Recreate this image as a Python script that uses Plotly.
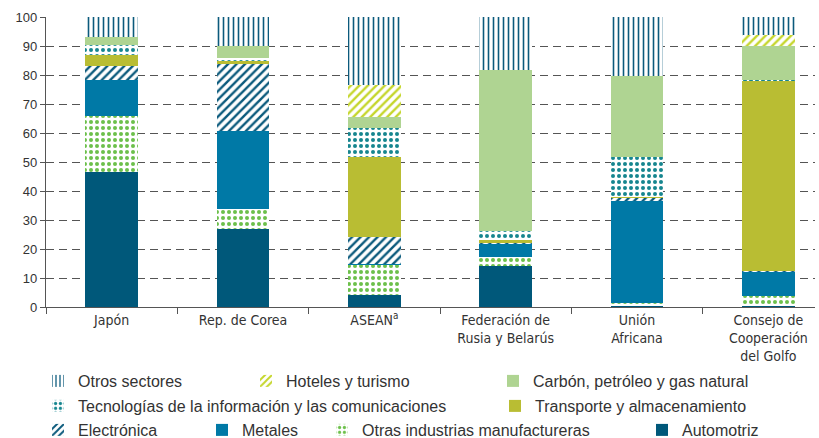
import plotly.graph_objects as go

categorias = [
  "Japón",
  "Rep. de Corea",
  "ASEAN<sup>a</sup>",
  "Federación de<br>Rusia y Belarús",
  "Unión<br>Africana",
  "Consejo de<br>Cooperación<br>del Golfo",
]

automotriz = [46.6, 27.0, 4.2, 14.3, 0.3, 0.5]
otras_manuf = [19.1, 6.9, 10.3, 2.9, 1.2, 3.4]
metales = [12.7, 26.9, 0.5, 4.6, 34.9, 8.4]
electronica = [4.8, 23.3, 9.3, 0.3, 1.5, 0.2]
transporte = [3.8, 0.6, 27.4, 1.0, 0.2, 65.5]
tic = [3.3, 1.2, 10.0, 3.1, 13.5, 0.3]
carbon = [2.7, 4.2, 3.8, 55.6, 28.2, 11.8]
hoteles = [0.0, 0.0, 11.2, 0.0, 0.0, 3.8]
otros = [7.0, 9.9, 23.3, 18.2, 20.2, 6.1]

y_ticks = [0, 10, 20, 30, 40, 50, 60, 70, 80, 90, 100]

# (nombre, valores, color, patron, leyenda, x texto px, fila)
series = [
  ("Automotriz", automotriz, '#00587a', '', 'legend9', 682, 3),
  ("Otras industrias manufactureras", otras_manuf, '#6cc04a', '.', 'legend8', 362, 3),
  ("Metales", metales, '#0079a6', '', 'legend7', 242, 3),
  ("Electrónica", electronica, '#0b5a7c', '/', 'legend6', 78, 3),
  ("Transporte y almacenamiento", transporte, '#b9bd33', '', 'legend5', 535, 2),
  ("Tecnologías de la información y las comunicaciones", tic, '#16858f', '.', 'legend4', 78, 2),
  ("Carbón, petróleo y gas natural", carbon, '#afd492', '', 'legend3', 533, 1),
  ("Hoteles y turismo", hoteles, '#c5d62b', '/', 'legend2', 286, 1),
  ("Otros sectores", otros, '#0b5a7c', '|', 'legend', 78, 1),
]

L, R, T, B = 46, 4, 17, 131
W, H = 819, 438
plot_w = W - L - R
plot_h = H - T - B
row_px = {1: 381, 2: 406, 3: 430}

fig = go.Figure()
legends = {}

for nombre, valores, color, patron, leg, tx, fila in series:
  if patron:
    marker = dict(
      color=color,
      line=dict(width=0),
      pattern=dict(
        shape=patron,
        fgcolor=color,
        bgcolor='white',
        size=6 if patron != '|' else 5,
        solidity={'.': 0.35, '/': 0.4, '|': 0.32}[patron],
        fillmode='replace',
      ),
    )
  else:
    marker = dict(color=color, line=dict(width=0))

  fig.add_trace(go.Bar(
    x=categorias,
    y=valores,
    name=nombre,
    marker=marker,
    width=0.4,
    legend=leg,
    showlegend=True,
  ))

  legends[leg] = dict(
    x=(tx - 40 - L) / plot_w,
    xanchor='left',
    y=(H - B - row_px[fila]) / plot_h,
    yanchor='middle',
    orientation='h',
    bgcolor='rgba(0,0,0,0)',
    font=dict(family='Liberation Sans, Arial', size=16, color='#333333'),
    itemclick=False,
  )

fig.update_layout(
  barmode='stack',
  width=W,
  height=H,
  showlegend=True,
  margin=dict(l=L, r=R, t=T, b=B, autoexpand=False),
  plot_bgcolor='white',
  paper_bgcolor='white',
  bargap=0,
  xaxis=dict(
    type='category',
    range=[-0.5, 5.355],
    tickson='boundaries',
    showgrid=False,
    showline=True,
    linecolor='#555555',
    linewidth=1.3,
    ticks='outside',
    ticklen=6,
    tickcolor='#555555',
    tickfont=dict(family='DejaVu Sans Condensed, Liberation Sans Narrow, Liberation Sans', size=14, color='#333333'),
    zeroline=False,
  ),
  yaxis=dict(
    range=[0, 100],
    tickvals=y_ticks,
    showgrid=True,
    gridcolor='#555555',
    gridwidth=1.2,
    griddash='8px,5px',
    showline=True,
    linecolor='#555555',
    linewidth=1.3,
    ticks='outside',
    ticklen=5,
    tickcolor='#555555',
    tickfont=dict(family='Liberation Sans, Arial', size=13, color='#333333'),
    zeroline=False,
  ),
  **legends,
)

# la pagina trae un margen de 8px en el body, se quita para que quepa en la ventana
fig.write_html(
  "out.html",
  config={'displayModeBar': False},
  post_script="document.body.style.margin='0';",
)
